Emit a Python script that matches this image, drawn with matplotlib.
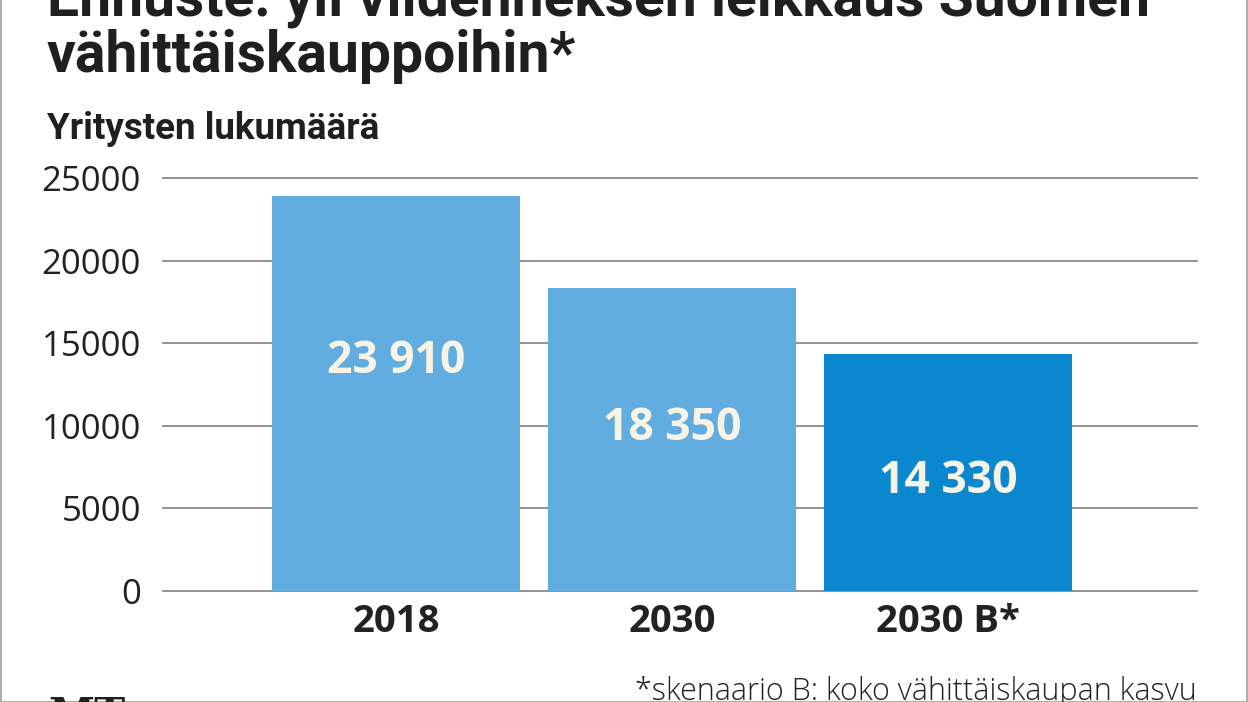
import matplotlib
matplotlib.use("Agg")
import matplotlib.pyplot as plt
from matplotlib.patches import Rectangle

categories = ["2018", "2030", "2030 B*"]
values = [23910, 18350, 14330]
value_labels = ["23 910", "18 350", "14 330"]
label_heights = [13900, 9850, 6650]
bar_colors = ["#62ADDF", "#62ADDF", "#0A87CF"]
yticks = [0, 5000, 10000, 15000, 20000, 25000]

title_lines = ["Ennuste: yli viidenneksen leikkaus Suomen", "vähittäiskauppoihin*"]
subtitle = "Yritysten lukumäärä"
footnote = "*skenaario B: koko vähittäiskaupan kasvu"

plt.rcParams['font.family'] = ['Open Sans', 'DejaVu Sans']

W, H = 1248, 702
fig = plt.figure(figsize=(W / 100, H / 100), dpi=100)
fig.patch.set_facecolor("white")

ax = fig.add_axes([163 / W, 1 - 591 / H, (1197 - 163) / W, (591 - 178) / H])
x = list(range(len(categories)))
ax.bar(x, values, width=0.899, color=bar_colors, zorder=3)
ax.set_xlim(-0.844, 2.902)
ax.set_ylim(0, 25000)
ax.set_yticks(yticks)
ax.set_yticklabels([str(v) for v in yticks], fontsize=25, color="#222222")
ax.set_xticks(x)
ax.set_xticklabels(categories, fontsize=27.5, fontweight="bold", color="#222222")
ax.tick_params(axis="y", length=0, pad=16)
ax.tick_params(axis="x", length=0, pad=9)
for s in ax.spines.values():
    s.set_visible(False)
ax.grid(axis="y", color="#8a8a8a", linewidth=1.3, zorder=0)
for gl in ax.get_ygridlines():
    gl.set_clip_on(False)
ax.set_axisbelow(True)

for xi, lab, h in zip(x, value_labels, label_heights):
    ax.text(xi, h, lab, ha="center", va="center", fontsize=32, fontweight="bold",
            color="#F7F4E6", zorder=4)

title_font = ['Roboto', 'DejaVu Sans']
fig.text(47 / W, 1 - 15 / H, title_lines[0], fontsize=41, fontweight="bold",
         family=title_font, color="#1f1f1f", va="baseline", ha="left")
fig.text(47 / W, 1 - 72 / H, title_lines[1], fontsize=41, fontweight="bold",
         family=title_font, color="#1f1f1f", va="baseline", ha="left")
fig.text(47 / W, 1 - 139 / H, subtitle, fontsize=26.5, fontweight="bold",
         family=title_font, color="#1f1f1f", va="baseline", ha="left")
fig.text(1197 / W, 1 - 700 / H, footnote, fontsize=22, fontweight="light",
         color="#222222", va="baseline", ha="right")
fig.text(48 / W, 1 - 728 / H, "MT", fontsize=30, fontweight="bold", family="DejaVu Serif",
         color="#1f1f1f", va="baseline", ha="left")

fig.add_artist(Rectangle((0.5 / W, 0), 1 - 2 / W, 1.2, transform=fig.transFigure,
                         fill=False, edgecolor="#b0b0b0", linewidth=1.5))

fig.savefig("out.png", dpi=100)
